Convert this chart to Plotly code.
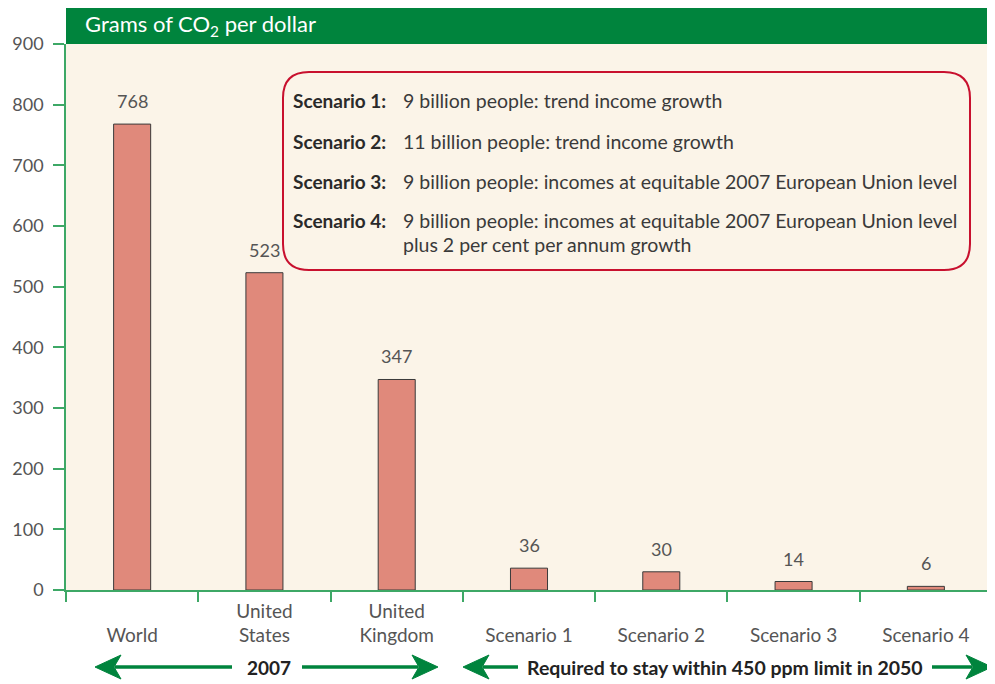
import plotly.graph_objects as go

categories = ["World", "United States", "United Kingdom", "Scenario 1", "Scenario 2", "Scenario 3", "Scenario 4"]
tick_labels = [" <br>World", "United<br>States", "United<br>Kingdom", " <br>Scenario 1", " <br>Scenario 2", " <br>Scenario 3", " <br>Scenario 4"]
values = [768, 523, 347, 36, 30, 14, 6]
y_ticks = [0, 100, 200, 300, 400, 500, 600, 700, 800, 900]

scenario_names = ["Scenario 1:", "Scenario 2:", "Scenario 3:", "Scenario 4:"]
scenario_desc = [
    ["9 billion people: trend income growth"],
    ["11 billion people: trend income growth"],
    ["9 billion people: incomes at equitable 2007 European Union level"],
    ["9 billion people: incomes at equitable 2007 European Union level", "plus 2 per cent per annum growth"],
]

# page offset of the figure (browser body margin)
OFF = 8
W, H = 995 - OFF, 684 - OFF
PLOT_L, PLOT_R, PLOT_T, PLOT_B = 66, 992, 44, 590  # page pixels
L = PLOT_L - OFF
T = PLOT_T - OFF
R = W - (PLOT_R - OFF)
B = H - (PLOT_B - OFF)
PW = PLOT_R - PLOT_L
PH = PLOT_B - PLOT_T

GREEN = "#00843D"
AXGREEN = "#3DA866"
CREAM = "#FBF4E8"
BAR = "#E0897B"
RED = "#C8102E"
GREY = "#555555"
FONT = "Lato"


def px(x):
    return (x - PLOT_L) / PW


def py(y):
    return (PLOT_B - y) / PH


fig = go.Figure()
fig.add_trace(go.Bar(
    x=categories, y=values, width=0.28,
    marker=dict(color=BAR, line=dict(color="#3a3a3a", width=1)),
    hoverinfo="x+y",
))

annotations = []
for c, v in zip(categories, values):
    annotations.append(dict(x=c, y=v, text=str(v), showarrow=False, xref="x", yref="y",
                            yanchor="bottom", yshift=10,
                            font=dict(family=FONT, size=18, color=GREY)))

# header title
annotations.append(dict(x=px(83), y=py(25), xref="paper", yref="paper", xanchor="left", yanchor="middle",
                        text="Grams of CO<sub>2</sub> per dollar", showarrow=False,
                        font=dict(family=FONT, size=22, color="white")))

# legend box text
rows_y = [101, 141, 181, 221]
for name, desc, yy in zip(scenario_names, scenario_desc, rows_y):
    annotations.append(dict(x=px(388), y=py(yy), xref="paper", yref="paper", xanchor="right", yanchor="middle",
                            text="<b>" + name + "</b>", showarrow=False,
                            font=dict(family=FONT, size=19, color="#2a2a2a")))
    for i, line in enumerate(desc):
        annotations.append(dict(x=px(401), y=py(yy + 23 * i), xref="paper", yref="paper",
                                xanchor="left", yanchor="middle",
                                text=line, showarrow=False, align="left",
                                font=dict(family=FONT, size=19.5, color="#3a3a3a")))

# bottom captions
annotations.append(dict(x=px(269), y=py(667), xref="paper", yref="paper", xanchor="center", yanchor="middle",
                        text="<b>2007</b>", showarrow=False, font=dict(family=FONT, size=19, color="#222")))
annotations.append(dict(x=px(725), y=py(667), xref="paper", yref="paper", xanchor="center", yanchor="middle",
                        text="<b>Required to stay within 450 ppm limit in 2050</b>", showarrow=False,
                        font=dict(family=FONT, size=19.5, color="#222")))

shapes = []
# green header
shapes.append(dict(type="rect", xref="paper", yref="paper", x0=0, x1=px(993), y0=1, y1=py(4),
                   fillcolor=GREEN, line=dict(width=0), layer="above"))

# rounded rectangle
x0, x1, y0, y1, r = 283, 970, 72, 270, 26
path = (f"M {px(x0 + r)},{py(y0)} L {px(x1 - r)},{py(y0)} Q {px(x1)},{py(y0)} {px(x1)},{py(y0 + r)} "
        f"L {px(x1)},{py(y1 - r)} Q {px(x1)},{py(y1)} {px(x1 - r)},{py(y1)} "
        f"L {px(x0 + r)},{py(y1)} Q {px(x0)},{py(y1)} {px(x0)},{py(y1 - r)} "
        f"L {px(x0)},{py(y0 + r)} Q {px(x0)},{py(y0)} {px(x0 + r)},{py(y0)} Z")
shapes.append(dict(type="path", xref="paper", yref="paper", path=path,
                   line=dict(color=RED, width=2), fillcolor="rgba(0,0,0,0)"))


def arrow(x_start, x_tip):
    d = 1 if x_tip > x_start else -1
    yy = 667
    back = x_tip - d * 24
    shapes.append(dict(type="line", xref="paper", yref="paper", x0=px(x_start), x1=px(back + d * 4),
                       y0=py(yy), y1=py(yy), line=dict(color=GREEN, width=3.5)))
    p = (f"M {px(x_tip)},{py(yy)} L {px(back - d * 2)},{py(yy - 12)} L {px(back + d * 5)},{py(yy)} "
         f"L {px(back - d * 2)},{py(yy + 12)} Z")
    shapes.append(dict(type="path", xref="paper", yref="paper", path=p,
                       fillcolor=GREEN, line=dict(color=GREEN, width=1)))


arrow(232, 95)
arrow(302, 438)
arrow(518, 463)
arrow(932, 992)

fig.update_layout(
    width=W, height=H,
    margin=dict(l=L, r=R, t=T, b=B),
    paper_bgcolor="white", plot_bgcolor=CREAM,
    showlegend=False,
    annotations=annotations, shapes=shapes,
    font=dict(family=FONT, color=GREY),
)
fig.update_xaxes(
    type="category", tickmode="array", tickvals=categories, ticktext=tick_labels,
    tickson="boundaries", ticks="outside", ticklen=10, tickcolor=AXGREEN, tickwidth=1.5,
    showline=True, linecolor=AXGREEN, linewidth=1.5, mirror=False, showgrid=False,
    tickfont=dict(family=FONT, size=19, color=GREY), range=[-0.5, 6.5], ticklabelstandoff=3,
    automargin=False,
)
fig.update_yaxes(
    range=[0, 900], tickmode="array", tickvals=y_ticks, ticks="outside", ticklen=11,
    tickcolor=AXGREEN, tickwidth=1.5, showline=True, linecolor=AXGREEN, linewidth=1.5,
    mirror=True, showgrid=False, zeroline=False, ticklabelstandoff=6,
    tickfont=dict(family=FONT, size=18, color=GREY), automargin=False,
)

fig.write_html("out.html")
